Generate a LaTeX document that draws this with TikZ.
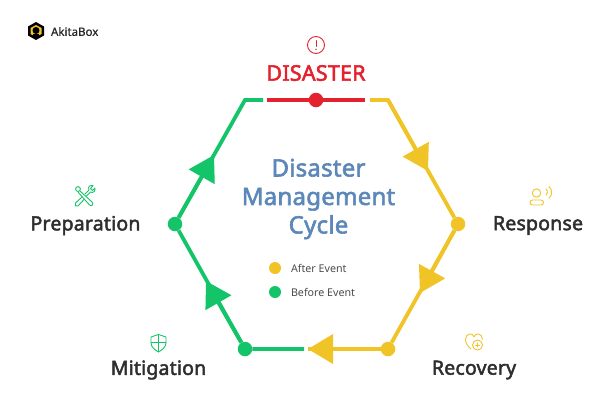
\documentclass[tikz,border=0pt]{standalone}
\usepackage{fontspec}
\setmainfont{Noto Sans}
\newfontfamily\headfont[FakeBold=2.4,LetterSpace=1]{Noto Sans}
\newfontfamily\logofont[FakeBold=0.5]{Noto Sans}
\usetikzlibrary{arrows.meta}
\definecolor{redline}{HTML}{E3222E}
\definecolor{yellowline}{HTML}{F0C326}
\definecolor{greenline}{HTML}{14C468}
\definecolor{titleblue}{HTML}{5B87B9}
\definecolor{labelgray}{HTML}{2E2E2E}
\tikzset{
    ring/.style={line width=3.8pt},
    ringarrow/.style={ring, -{Triangle[length=25pt,width=29pt]}},
    stage/.style={circle, fill=#1, minimum size=14.5pt, inner sep=0pt},
    keydot/.style={circle, fill=#1, minimum size=12pt, inner sep=0pt},
    steplabel/.style={font=\headfont\fontsize{19.5}{22}\selectfont, text=labelgray},
    keylabel/.style={font=\fontsize{10.7}{12}\selectfont, text=black!70, anchor=west},
    icon/.style={line width=0.9pt, line cap=round, line join=round}
}
\begin{document}
\begin{tikzpicture}[x=1pt,y=-1pt]
    \useasboundingbox (0,0) rectangle (612,408);
    % Ring stages
    \node[stage=redline] (disaster) at (316,100) {};
    \node[stage=yellowline] (response) at (458,224) {};
    \node[stage=yellowline] (recovery) at (388,349) {};
    \node[stage=greenline] (mitigation) at (245,349) {};
    \node[stage=greenline] (preparation) at (175,224) {};
    \coordinate (topleft) at (245,100);
    \coordinate (topright) at (388,100);
    \coordinate (redstart) at (267,100);
    \coordinate (redend) at (365,100);
    \coordinate (greenend) at (263,100);
    \coordinate (yellowstart) at (370,100);
    \coordinate (greenstart) at (304,349);
    \coordinate (tipa) at (428,171);
    \coordinate (tipb) at (420,293);
    \coordinate (tipc) at (308,349);
    \coordinate (tipd) at (206,281);
    \coordinate (tipe) at (214,155);
    % Red segment
    \draw[ring, redline] (redstart) -- (disaster) -- (redend);
    % Yellow side
    \draw[ring, yellowline] (yellowstart) -- (topright) -- (response) -- (recovery) -- (tipc);
    \draw[ringarrow, yellowline] (topright) -- (tipa);
    \draw[ringarrow, yellowline] (response) -- (tipb);
    \draw[ringarrow, yellowline] (recovery) -- (tipc);
    % Green side
    \draw[ring, greenline] (greenstart) -- (mitigation) -- (preparation) -- (topleft) -- (greenend);
    \draw[ringarrow, greenline] (mitigation) -- (tipd);
    \draw[ringarrow, greenline] (preparation) -- (tipe);
    % Labels
    \node[font=\headfont\fontsize{21.5}{24}\selectfont, text=redline] (disasterlabel) at (316,73) {DISASTER};
    \node[steplabel] (responselabel) at (538,225.5) {Response};
    \node[steplabel] (recoverylabel) at (474,370) {Recovery};
    \node[steplabel] (mitigationlabel) at (158.5,370) {Mitigation};
    \node[steplabel] (preparationlabel) at (85.5,225.5) {Preparation};
    \node[font=\headfont\fontsize{24}{28.5}\selectfont, text=titleblue, align=center] (title) at (318.5,199) {Disaster\\Management\\Cycle};
    % Legend
    \node[keydot=yellowline] (afterdot) at (275,268) {};
    \node[keydot=greenline] (beforedot) at (275,292) {};
    \node[keylabel] (afterlabel) at (287.5,268) {After Event};
    \node[keylabel] (beforelabel) at (287.5,292) {Before Event};
    % Logo
    \fill[black] (36,22) -- (44,26.5) -- (44,35.5) -- (36,40) -- (28,35.5) -- (28,26.5) -- cycle;
    \fill[yellowline] (36,25) -- (41.5,28) -- (41.5,34) -- (36,37) -- (30.5,34) -- (30.5,28) -- cycle;
    \fill[black] (36,30.5) circle (3.5);
    \fill[black] (33,34) rectangle (39,37);
    \node[font=\logofont\fontsize{11.5}{13}\selectfont, text=black!85, anchor=west] (logo) at (47.5,31.5) {AkitaBox};
    % Alert icon
    \draw[icon, redline] (316,45) circle (8.5);
    \draw[icon, redline] (316,40.5) -- (316,46.5);
    \fill[redline] (316,49.3) circle (0.8);
    % Response icon
    \draw[icon, yellowline] (536.5,193) circle (4.2);
    \draw[icon, yellowline, rounded corners=2.5pt] (530,205) rectangle (543.5,200);
    \draw[icon, yellowline] (546,189) arc[start angle=-50, end angle=50, radius=4];
    \draw[icon, yellowline] (549,186.5) arc[start angle=-50, end angle=50, radius=7.5];
    % Recovery icon
    \draw[icon, yellowline] (471,349) .. controls (467,346) and (465.5,342) .. (465.5,339.5) .. controls (465.5,333) and (473,332) .. (474,337) .. controls (475,332) and (482.5,333) .. (482.5,339.5);
    \draw[icon, yellowline] (477.5,345) circle (5);
    \draw[icon, yellowline] (475.5,345) -- (479.5,345) (477.5,343) -- (477.5,347);
    % Mitigation icon
    \draw[icon, greenline] (158.5,334.5) -- (151,337) -- (151,343) .. controls (151,347) and (155,350) .. (158.5,352) .. controls (162,350) and (166,347) .. (166,343) -- (166,337) -- cycle;
    \draw[icon, greenline] (158.5,334.5) -- (158.5,352) (151,342) -- (166,342);
    % Preparation icon
    \draw[icon, greenline] (78,189) circle (2.4);
    \draw[icon, greenline] (80,191) -- (92,202) .. controls (94,204) and (92,207) .. (89.5,205) -- (78,192);
    \draw[icon, greenline] (85,194) -- (89,190) .. controls (87.5,186.5) and (90,185) .. (93,185.5) -- (90.5,188.5) -- (92.5,190.5) -- (95,188) .. controls (95.5,191) and (93.5,193.5) .. (90.5,192) -- (86.5,196);
    \draw[icon, greenline] (82,197) -- (75.5,203) .. controls (74,205) and (76,207.5) .. (78,206) -- (84,199.5);
\end{tikzpicture}
\end{document}
